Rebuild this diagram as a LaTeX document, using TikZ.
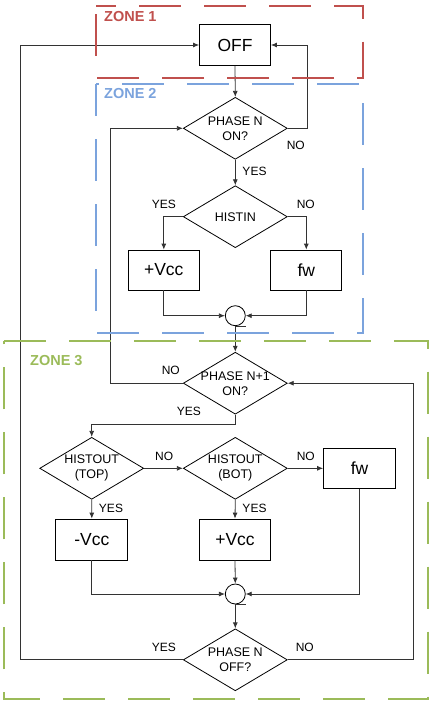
\documentclass[tikz,border=0pt]{standalone}
\usepackage{fontspec}
\setmainfont{Liberation Sans}
\usetikzlibrary{shapes.geometric,arrows.meta}
\definecolor{zred}{HTML}{C0504D}
\definecolor{zblue}{HTML}{7BA3DD}
\definecolor{zgreen}{HTML}{9BBB59}
\begin{document}
\begin{tikzpicture}[x=1pt,y=-1pt,
  box/.style={draw=black,line width=0.8pt,minimum width=71pt,minimum height=41pt,inner sep=0pt,font=\fontsize{17.5}{20}\selectfont},
  dia/.style={draw=black,line width=0.8pt,shape=diamond,minimum width=104pt,minimum height=62pt,inner sep=0pt},
  dtext/.style={font=\fontsize{12.5}{15}\selectfont,align=center,inner sep=0pt},
  junc/.style={draw=black,line width=0.8pt,circle,minimum size=20pt,inner sep=0pt},
  conn/.style={draw=black!80,line width=0.8pt},
  arr/.style={conn,-{Latex[length=6pt,width=5pt]}},
  lbl/.style={font=\fontsize{12}{14}\selectfont,inner sep=0pt},
  zone/.style={line width=2pt,dash pattern=on 42pt off 23pt},
  zlbl/.style={font=\fontsize{14.5}{16}\selectfont\bfseries,inner sep=0pt,anchor=west}
]
\useasboundingbox (0,0) rectangle (430,702);

% nodes
\node[box] (off) at (235,45) {OFF};
\node[dia,label={[dtext]center:PHASE N\\ON?}] (d1) at (235.3,128.3) {};
\node[dia,label={[dtext]center:HISTIN}] (hin) at (235.3,216.7) {};
\node[box,minimum height=40pt] (vcca) at (163.8,270) {+Vcc};
\node[box,minimum height=40pt] (fwa) at (306.3,270) {fw};
\node[junc] (j1) at (235.3,315.7) {};
\node[dia,label={[dtext]center:PHASE N+1\\ON?}] (d2) at (235.3,383.2) {};
\node[dia,label={[dtext]center:HISTOUT\\(TOP)}] (top) at (91.7,468.3) {};
\node[dia,label={[dtext]center:HISTOUT\\(BOT)}] (bot) at (235.3,468.3) {};
\node[box,minimum width=72pt,minimum height=40pt] (fwb) at (359.5,468.3) {fw};
\node[box,minimum width=72pt] (mvcc) at (91.8,539.5) {-Vcc};
\node[box] (vccb) at (235,539.5) {+Vcc};
\node[junc] (j2) at (235.3,594) {};
\node[dia,label={[dtext]center:PHASE N\\OFF?}] (d3) at (235.3,659.8) {};

% connectors
\draw[arr] (off.south) -- (d1.north);
\draw[arr] (d1.east) -- ++(19.4,0) |- (off.east);
\draw[arr] (d1.south) -- (hin.north);
\draw[arr] (hin.west) -| (vcca.north);
\draw[arr] (hin.east) -| (fwa.north);
\draw[arr] (vcca.south) |- (j1.west);
\draw[arr] (fwa.south) |- (j1.east);
\draw[conn] (j1.south) -- ++(10.5,0);
\draw[arr] (j1.south) -- (d2.north);
\draw[arr] (d2.west) -- ++(-73,0) |- (d1.west);
\draw[arr] (d2.south) -- ++(0,10.1) -| (top.north);
\draw[arr] (top.east) -- (bot.west);
\draw[arr] (bot.east) -- (fwb.west);
\draw[arr] (top.south) -- (mvcc.north);
\draw[arr] (bot.south) -- (vccb.north);
\draw[arr] (mvcc.south) |- (j2.west);
\draw[arr] (vccb.south) -- (j2.north);
\draw[arr] (fwb.south) |- (j2.east);
\draw[conn] (j2.south) -- ++(10.5,0);
\draw[arr] (j2.south) -- (d3.north);
\draw[arr] (d3.west) -- ++(-162.3,0) |- (off.west);
\draw[arr] (d3.east) -- ++(126,0) |- (d2.east);

% labels
\node[lbl] (l1) at (254.5,171.7) {YES};
\node[lbl] (l2) at (295.8,145.3) {NO};
\node[lbl] (l3) at (163.8,204.5) {YES};
\node[lbl] (l4) at (305.8,204.5) {NO};
\node[lbl] (l5) at (170.8,370.8) {NO};
\node[lbl] (l6) at (188.8,411.3) {YES};
\node[lbl] (l7) at (164.2,456) {NO};
\node[lbl] (l8) at (305.8,456) {NO};
\node[lbl] (l9) at (111,508) {YES};
\node[lbl] (l10) at (254.5,508) {YES};
\node[lbl] (l11) at (163.8,647.5) {YES};
\node[lbl] (l12) at (304.8,647.5) {NO};

% zones
\draw[zone,zred,dash phase=22pt] (96,6) -- (363.3,6) -- (363.3,77.5) -- (96,77.5) -- cycle;
\draw[zone,zblue,dash phase=39pt] (96,84.3) -- (363.3,84.3) -- (363.3,333.3) -- (96,333.3) -- cycle;
\draw[zone,zgreen] (4,340.7) -- (428,340.7) -- (428,698.5) -- (4,698.5) -- cycle;
\node[zlbl,text=zred] (z1) at (104,16.7) {ZONE 1};
\node[zlbl,text=zblue] (z2) at (104,93.8) {ZONE 2};
\node[zlbl,text=zgreen] (z3) at (30,360.7) {ZONE 3};
\end{tikzpicture}
\end{document}
